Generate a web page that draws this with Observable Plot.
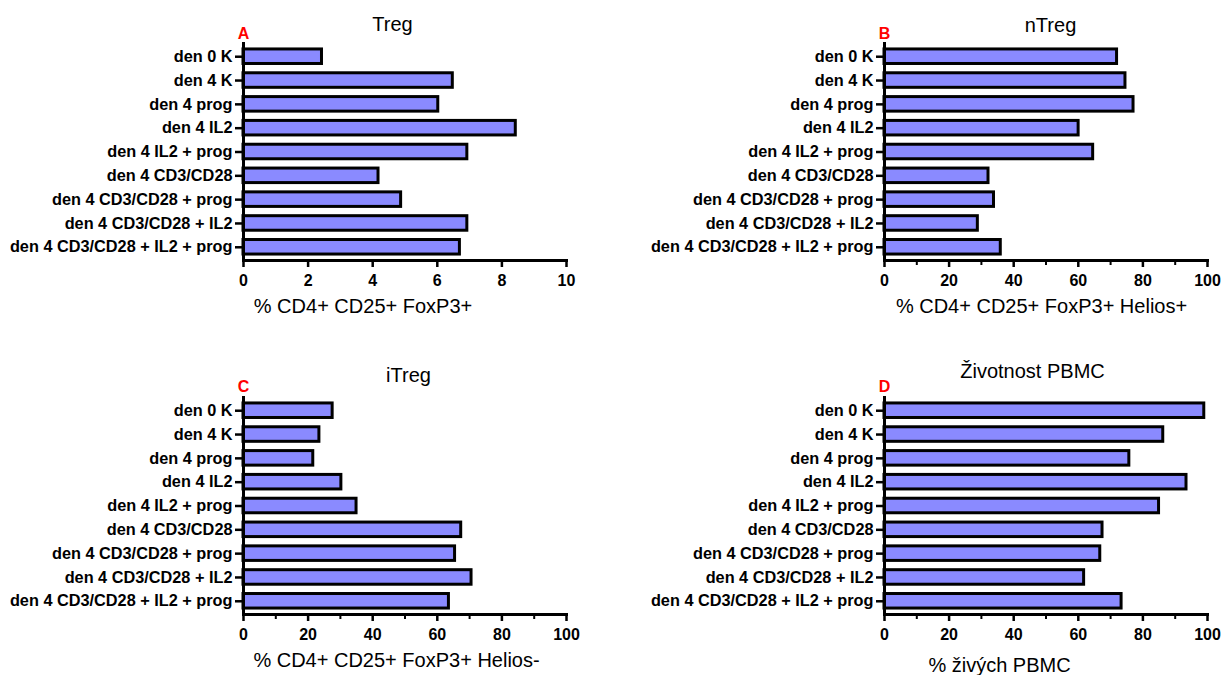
<!DOCTYPE html>
<html>
<head>
<meta charset="utf-8">
<script src="https://cdn.jsdelivr.net/npm/d3@7"></script>
<script src="https://cdn.jsdelivr.net/npm/@observablehq/plot@0.6"></script>
<style>
  html, body { margin: 0; padding: 0; background: #fff; }
  #wrap { position: relative; width: 1222px; height: 675px; overflow: hidden; background: #fff; }
  #wrap > div { position: absolute; }
  #wrap svg { max-width: none !important; }
</style>
</head>
<body>
<div id="wrap"></div>
<script>
// ---- data ----
const categories = [
  "den 0 K",
  "den 4 K",
  "den 4 prog",
  "den 4 IL2",
  "den 4 IL2 + prog",
  "den 4 CD3/CD28",
  "den 4 CD3/CD28 + prog",
  "den 4 CD3/CD28 + IL2",
  "den 4 CD3/CD28 + IL2 + prog"
];
const tregPct      = [2.43, 6.48, 6.03, 8.43, 6.93, 4.18, 4.88, 6.93, 6.70];
const nTregPct     = [72.0, 74.6, 77.1, 60.1, 64.6, 32.2, 33.9, 28.9, 36.0];
const iTregPct     = [27.6, 23.5, 21.6, 30.3, 35.0, 67.4, 65.5, 70.6, 63.6];
const viabilityPct = [99.0, 86.3, 75.8, 93.5, 85.0, 67.5, 66.8, 61.8, 73.4];

const ticksTreg  = [0, 2, 4, 6, 8, 10];
const ticksPct   = [0, 20, 40, 60, 80, 100];
const minorPct   = [10, 30, 50, 70, 90];

const panelTitles = ["Treg", "nTreg", "iTreg", "Životnost PBMC"];
const panelLetters = ["A", "B", "C", "D"];
const axisLabels = [
  "% CD4+ CD25+ FoxP3+",
  "% CD4+ CD25+ FoxP3+ Helios+",
  "% CD4+ CD25+ FoxP3+ Helios-",
  "% živých PBMC"
];

// ---- drawing ----
const FONT = "'Liberation Sans', Arial, Helvetica, sans-serif";

function panel(cfg) {
  const data = categories.map((c, i) => ({category: c, value: cfg.values[i]}));
  const marks = [
    Plot.barX(data, {x: "value", y: "category", fill: "#8a8aff", stroke: "black", strokeWidth: 3}),
    Plot.frame({anchor: "left", stroke: "black", strokeWidth: 3}),
    Plot.frame({anchor: "bottom", stroke: "black", strokeWidth: 3}),
    Plot.axisY({tickSize: 8, tickPadding: 3, strokeWidth: 2.5, fontSize: 16.3, fontWeight: "bold", label: null}),
    Plot.axisX({ticks: cfg.ticks, tickSize: 7, tickPadding: 7, strokeWidth: 2.5, fontSize: 16, fontWeight: "bold", label: null})
  ];
  if (cfg.minor) {
    marks.push(Plot.axisX({ticks: cfg.minor, tickSize: 5, strokeWidth: 2, tickFormat: () => "", label: null}));
  }
  marks.push(Plot.text([cfg.title], {frameAnchor: "top", textAnchor: "middle", lineAnchor: "middle",
    dx: cfg.titleDx, dy: cfg.titleDy, fontSize: 20, fill: "black"}));
  marks.push(Plot.text([cfg.letter], {frameAnchor: "top-left", textAnchor: "middle", lineAnchor: "middle",
    dy: cfg.letterDy, fontSize: 16, fontWeight: "bold", fill: "#ff0000"}));
  marks.push(Plot.text([cfg.xlabel], {frameAnchor: "bottom", textAnchor: "middle", lineAnchor: "middle",
    dx: cfg.labelDx, dy: cfg.labelDy, fontSize: 20, fill: "black"}));
  return Plot.plot({
    width: cfg.width,
    height: 321,
    marginLeft: 243,
    marginRight: cfg.width - 566,
    marginTop: 43,
    marginBottom: 61,
    x: {domain: cfg.domain},
    y: {domain: categories, paddingInner: 0.39, paddingOuter: 0.25, round: false},
    style: {fontFamily: FONT, color: "black", background: "white", overflow: "visible"},
    marks
  });
}

const configs = [
  {values: tregPct, domain: [0, 10], ticks: ticksTreg, minor: null, width: 611,
   titleDx: -12.5, titleDy: -18.5, letterDy: -10, labelDx: -42, labelDy: 46, left: 0, top: 0},
  {values: nTregPct, domain: [0, 100], ticks: ticksPct, minor: minorPct, width: 581,
   titleDx: 4.5, titleDy: -18, letterDy: -10, labelDx: -4.5, labelDy: 46, left: 641, top: 0},
  {values: iTregPct, domain: [0, 100], ticks: ticksPct, minor: minorPct, width: 611,
   titleDx: 3.5, titleDy: -22, letterDy: -11, labelDx: -8.5, labelDy: 46, left: 0, top: 354},
  {values: viabilityPct, domain: [0, 100], ticks: ticksPct, minor: minorPct, width: 581,
   titleDx: -13.5, titleDy: -25.5, letterDy: -11, labelDx: -46.5, labelDy: 51, left: 641, top: 354}
];

const wrap = document.getElementById("wrap");
configs.forEach((cfg, i) => {
  cfg.title = panelTitles[i];
  cfg.letter = panelLetters[i];
  cfg.xlabel = axisLabels[i];
  const holder = document.createElement("div");
  holder.style.left = cfg.left + "px";
  holder.style.top = cfg.top + "px";
  holder.appendChild(panel(cfg));
  wrap.appendChild(holder);
});
</script>
</body>
</html>
